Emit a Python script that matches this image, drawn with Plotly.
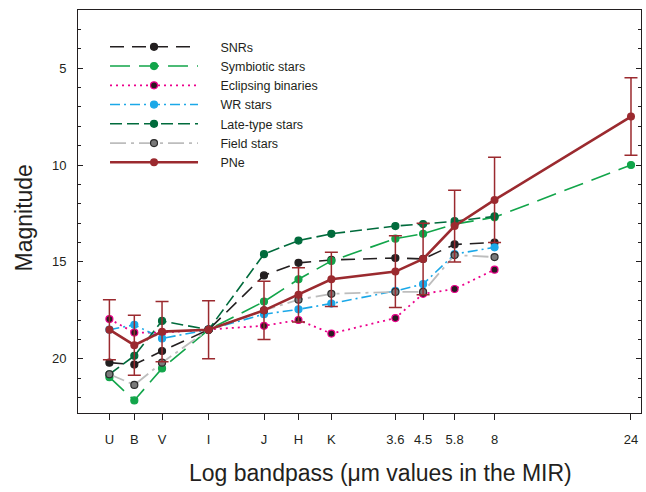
import plotly.graph_objects as go

bands = ["U", "B", "V", "I", "J", "H", "K", "3.6", "4.5", "5.8", "8", "24"]
wavelength = [0.36, 0.44, 0.55, 0.8, 1.25, 1.65, 2.15, 3.6, 4.5, 5.8, 8.0, 24.0]

snr = [20.2, 20.3, 19.6, 18.5, 15.7, 15.05, 14.9, 14.8, 14.85, 14.1, 14.0, None]
symbiotic = [20.95, 22.15, 20.5, 18.5, 17.05, 15.9, 14.95, 13.8, 13.55, 13.05, 12.7, 10.0]
eclipsing = [17.95, 18.65, 18.65, 18.5, 18.3, 18.0, 18.7, 17.9, 16.65, 16.4, 15.4, None]
wr = [18.5, 18.25, 18.95, 18.5, 17.7, 17.45, 17.15, 16.5, 16.15, 14.6, 14.25, None]
late_type = [20.8, 19.85, 18.05, 18.5, 14.6, 13.9, 13.55, 13.15, 13.05, 12.9, 12.65, None]
field = [20.8, 21.35, 20.2, 18.5, 17.5, 16.95, 16.65, 16.55, 16.55, 14.65, 14.75, None]
pne = [18.5, 19.3, 18.6, 18.5, 17.5, 16.7, 15.9, 15.5, 14.85, 13.15, 11.8, 7.5]
pne_err = [1.55, 1.55, 1.55, 1.5, 1.5, 1.4, 1.4, 1.85, 1.85, 1.85, 2.2, 2.0]

series = [
    ("SNRs", snr, "#231f20", "#231f20", "#231f20", "14px,8px", 1.6),
    ("Symbiotic stars", symbiotic, "#12a54a", "#12a54a", "#12a54a", "20px,9px", 1.6),
    ("Eclipsing binaries", eclipsing, "#ec008c", "#2a1a22", "#ec008c", "2px,4px", 1.8),
    ("WR stars", wr, "#1ba8e8", "#1ba8e8", "#1ba8e8", "10px,4px,2px,4px", 1.6),
    ("Late-type stars", late_type, "#006b3c", "#006b3c", "#006b3c", "12px,5px", 1.6),
    ("Field stars", field, "#bdbdbd", "#7a7a7a", "#2b2b2b", "16px,5px,3px,5px", 1.8),
]

PAD = "\u00a0" * 5

fig = go.Figure()
for name, vals, lc, mfill, mline, dash, lw in series:
    fig.add_trace(go.Scatter(
        x=wavelength, y=vals, name=PAD + name, mode="lines+markers",
        line=dict(color=lc, width=lw, dash=dash),
        marker=dict(size=7, color=mfill, line=dict(color=mline, width=1.2)),
        connectgaps=False,
    ))

fig.add_trace(go.Scatter(
    x=wavelength, y=pne, name=PAD + "PNe", mode="lines+markers",
    line=dict(color="#9b2a2f", width=2.6),
    marker=dict(size=8, color="#9b2a2f"),
    error_y=dict(type="data", array=pne_err, visible=True, color="#9b2a2f",
                 thickness=1.5, width=6.5),
))

xr = [-0.5535, 1.4152]
fig.update_layout(
    width=646, height=492,
    margin=dict(l=78, r=5, t=10, b=79),
    paper_bgcolor="white", plot_bgcolor="white",
    font=dict(family="Liberation Sans, Arial, sans-serif", color="#231f20"),
    showlegend=True,
    legend=dict(x=0.048, y=0.945, xanchor="left", yanchor="top",
                font=dict(size=12.5, color="#231f20"),
                itemwidth=88, bgcolor="rgba(0,0,0,0)", tracegroupgap=0),
    xaxis=dict(type="log", range=xr, tickvals=wavelength, ticktext=bands,
               ticks="outside", ticklen=6, tickcolor="#231f20", tickwidth=1,
               showline=True, linecolor="#231f20", linewidth=1, mirror=True,
               showgrid=False, zeroline=False, tickfont=dict(size=13),
               ticklabelstandoff=8),
    xaxis2=dict(type="log", range=xr, overlaying="x", side="top", matches="x",
                tickvals=wavelength, ticktext=["" for _ in bands],
                ticks="inside", ticklen=6, tickcolor="#231f20",
                showline=False, showgrid=False, zeroline=False),
    yaxis=dict(range=[22.8, 2], tickvals=[5, 10, 15, 20], ticktext=["5", "10", "15", "20"],
               ticks="inside", ticklen=5, tickcolor="#231f20", tickwidth=1,
               minor=dict(dtick=1, tick0=0, ticks="inside", ticklen=3, tickcolor="#231f20"),
               showline=True, linecolor="#231f20", linewidth=1, mirror="allticks",
               showgrid=False, zeroline=False, tickfont=dict(size=13),
               ticklabelstandoff=8),
    annotations=[
        dict(text="Log bandpass (\u03bcm values in the MIR)", xref="paper", yref="paper",
             x=0.538, y=-0.148, xanchor="center", yanchor="middle", showarrow=False,
             font=dict(size=23, color="#231f20")),
        dict(text="Magnitude", xref="paper", yref="paper", textangle=-90,
             x=-0.096, y=0.485, xanchor="center", yanchor="middle", showarrow=False,
             font=dict(size=23, color="#231f20")),
    ],
)

fig.write_html("out.html")
